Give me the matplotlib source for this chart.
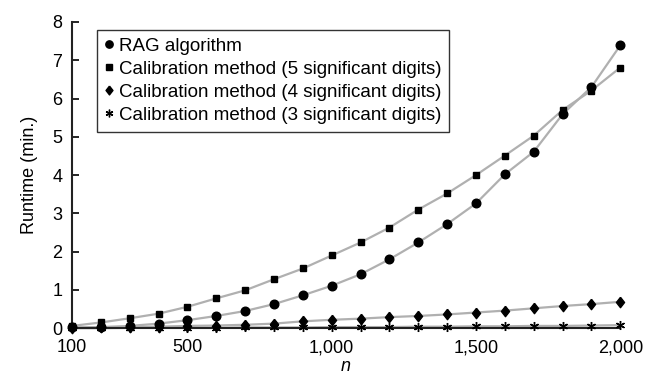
import numpy as np
from matplotlib import pyplot as plt
from matplotlib.lines import Line2D

plt.rcParams['font.family'] = ['Liberation Sans', 'DejaVu Sans']

n = [100, 200, 300, 400, 500, 600, 700, 800, 900, 1000,
     1100, 1200, 1300, 1400, 1500, 1600, 1700, 1800, 1900, 2000]

rag = [0.02, 0.03, 0.06, 0.12, 0.21, 0.32, 0.45, 0.63, 0.86, 1.11,
       1.41, 1.80, 2.24, 2.72, 3.26, 4.02, 4.61, 5.59, 6.30, 7.39]
cal5 = [0.06, 0.15, 0.26, 0.38, 0.56, 0.78, 0.99, 1.28, 1.56, 1.90,
        2.24, 2.63, 3.10, 3.52, 4.00, 4.51, 5.03, 5.70, 6.21, 6.81]
cal4 = [0.01, 0.02, 0.03, 0.04, 0.06, 0.07, 0.09, 0.12, 0.18, 0.22,
        0.25, 0.29, 0.32, 0.36, 0.41, 0.46, 0.52, 0.58, 0.63, 0.69]
cal3 = [0.00, 0.00, 0.01, 0.01, 0.01, 0.01, 0.02, 0.02, 0.02, 0.03,
        0.03, 0.03, 0.04, 0.04, 0.05, 0.05, 0.06, 0.06, 0.07, 0.08]

labels = ['RAG algorithm',
          'Calibration method (5 significant digits)',
          'Calibration method (4 significant digits)',
          'Calibration method (3 significant digits)']
diamond = [(0, 1), (0.78, 0), (0, -1), (-0.78, 0), (0, 1)]
markers = ['o', 's', diamond, (6, 2, 0)]
sizes = [6.2, 4.8, 7.5, 6.5]
series = [rag, cal5, cal4, cal3]

fig = plt.figure(figsize=(6.55, 3.79), dpi=100)
ax = fig.add_axes([0.110, 0.134, 0.837, 0.808])

handles = []
for y, m, s, lab in zip(series, markers, sizes, labels):
    ax.plot(n, y, color='#b0b0b0', lw=1.6, zorder=2, clip_on=False)
    ax.plot(n, y, ls='none', marker=m, ms=s, color='black',
            markeredgewidth=1.0, zorder=3, clip_on=False)
    handles.append(Line2D([], [], ls='none', marker=m, ms=s * 0.85,
                          color='black', label=lab))

ax.set_xlim(100, 2000)
ax.set_ylim(0, 8)
ax.set_xticks([100, 500, 1000, 1500, 2000])
ax.set_xticklabels(['100', '500', '1,000', '1,500', '2,000'])
ax.set_yticks(range(0, 9))
ax.tick_params(axis='x', length=0, labelsize=13, pad=8)
ax.tick_params(axis='y', direction='in', length=5, width=1.2,
               labelsize=13, pad=7)
for sp in ['top', 'right']:
    ax.spines[sp].set_visible(False)
for sp in ['left', 'bottom']:
    ax.spines[sp].set_linewidth(1.5)
    ax.spines[sp].set_color('#222222')

ax.set_xlabel('n', style='italic', fontsize=13, labelpad=1)
ax.set_ylabel('Runtime (min.)', fontsize=13, labelpad=10)

leg = ax.legend(handles=handles, loc='upper left',
                bbox_to_anchor=(0.045, 0.975), fontsize=13.5,
                frameon=True, fancybox=False, edgecolor='black',
                handlelength=0.5, handletextpad=0.25, labelspacing=0.32,
                borderpad=0.42, borderaxespad=0)
leg.get_frame().set_linewidth(1.0)

plt.savefig('out.png', dpi=100)
